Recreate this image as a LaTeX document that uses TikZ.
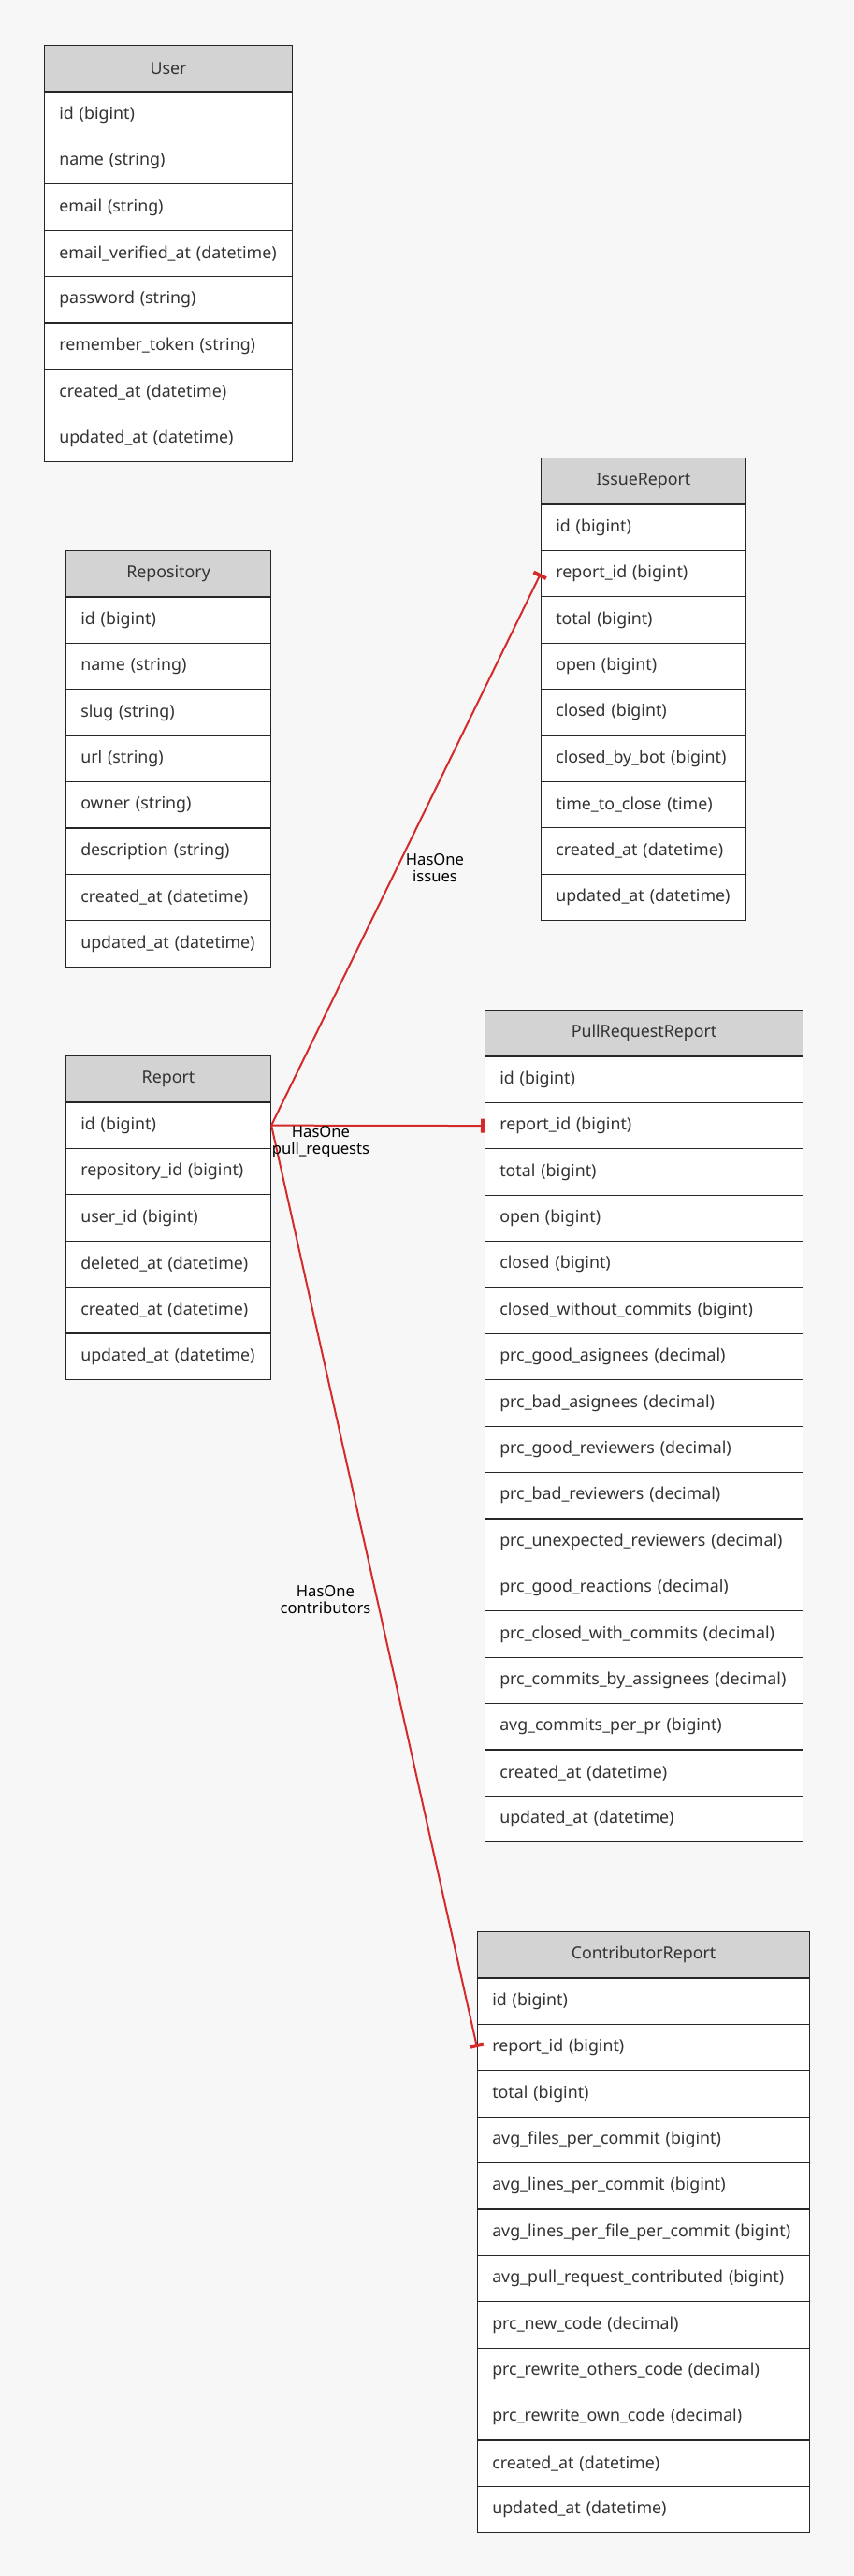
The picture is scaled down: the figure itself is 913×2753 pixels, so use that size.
\documentclass[tikz,border=0pt]{standalone}
\usepackage{fontspec}
\setmainfont{Noto Sans}
\usetikzlibrary{arrows.meta}
\definecolor{bg}{HTML}{F7F7F7}
\definecolor{hdr}{HTML}{D3D3D3}
\definecolor{txt}{HTML}{333333}
\definecolor{relc}{HTML}{D42A2A}
\newcommand\ertable[6]{%
  \pgfmathsetmacro\ertw{#4*0.5-15.7}%
  \node[headrow, minimum width=#4*0.5pt, anchor=north west] (#1) at (#2,#3) {#5};
  \foreach \f [count=\i] in {#6} {
    \node[fieldrow, text width=\ertw pt, anchor=north west] (#1-\i) at (#2,{#3+\i*49.4}) {\f};
  }%
}
\begin{document}
\begin{tikzpicture}[x=0.5pt,y=-0.5pt,
  font=\fontsize{8.9}{10.5}\selectfont,
  headrow/.style={draw=black!85, fill=hdr, line width=0.55pt, minimum height=24.7pt, inner ysep=0pt, inner xsep=0pt, text=txt},
  fieldrow/.style={draw=black!85, fill=white, line width=0.55pt, minimum height=24.7pt, inner ysep=0pt, inner xsep=7.85pt, align=left, text=txt},
  relline/.style={draw=relc, line width=1pt, -{Rectangle[length=2pt,width=7.5pt]}},
  lbl/.style={align=center, font=\fontsize{8.3}{9}\selectfont, text=black, inner sep=0pt}]
\fill[bg] (0,0) rectangle (913,2753);
\useasboundingbox (0,0) rectangle (913,2753);

\ertable{user}{47}{48}{265}{User}{id (bigint),name (string),email (string),email\_verified\_at (datetime),password (string),remember\_token (string),created\_at (datetime),updated\_at (datetime)}
\ertable{repo}{70}{588}{219}{Repository}{id (bigint),name (string),slug (string),url (string),owner (string),description (string),created\_at (datetime),updated\_at (datetime)}
\ertable{rep}{70}{1128}{219}{Report}{id (bigint),repository\_id (bigint),user\_id (bigint),deleted\_at (datetime),created\_at (datetime),updated\_at (datetime)}
\ertable{iss}{578}{489}{219}{IssueReport}{id (bigint),report\_id (bigint),total (bigint),open (bigint),closed (bigint),closed\_by\_bot (bigint),time\_to\_close (time),created\_at (datetime),updated\_at (datetime)}
\ertable{pr}{518}{1079}{340}{PullRequestReport}{id (bigint),report\_id (bigint),total (bigint),open (bigint),closed (bigint),closed\_without\_commits (bigint),prc\_good\_asignees (decimal),prc\_bad\_asignees (decimal),prc\_good\_reviewers (decimal),prc\_bad\_reviewers (decimal),prc\_unexpected\_reviewers (decimal),prc\_good\_reactions (decimal),prc\_closed\_with\_commits (decimal),prc\_commits\_by\_assignees (decimal),avg\_commits\_per\_pr (bigint),created\_at (datetime),updated\_at (datetime)}
\ertable{con}{510}{2064}{355}{ContributorReport}{id (bigint),report\_id (bigint),total (bigint),avg\_files\_per\_commit (bigint),avg\_lines\_per\_commit (bigint),avg\_lines\_per\_file\_per\_commit (bigint),avg\_pull\_request\_contributed (bigint),prc\_new\_code (decimal),prc\_rewrite\_others\_code (decimal),prc\_rewrite\_own\_code (decimal),created\_at (datetime),updated\_at (datetime)}

\draw[relline] (rep-1.east) -- (iss-2.west);
\draw[relline] (rep-1.east) -- (pr-2.west);
\draw[relline] (rep-1.east) -- (con-2.west);

\node[lbl] (l1) at (465,928) {HasOne\\issues};
\node[lbl] (l2) at (343,1220) {HasOne\\pull\_requests};
\node[lbl] (l3) at (348,1710) {HasOne\\contributors};
\end{tikzpicture}
\end{document}
